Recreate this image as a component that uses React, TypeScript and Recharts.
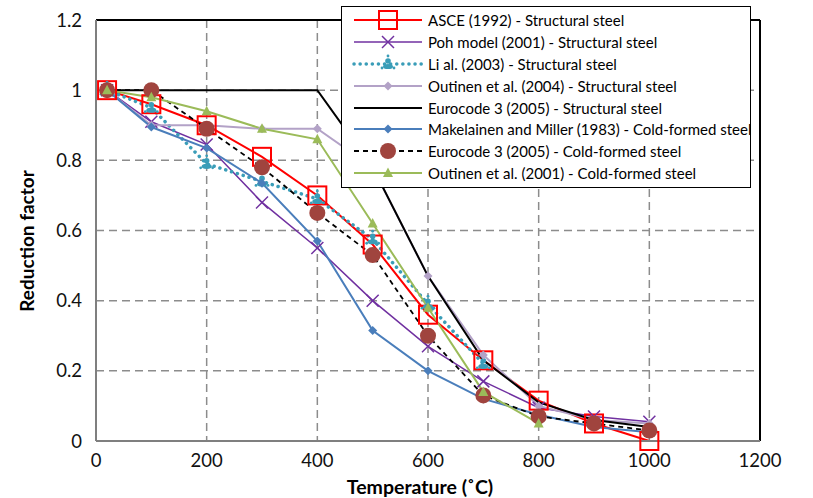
import React from "react";
import {
  LineChart,
  Line,
  XAxis,
  YAxis,
  CartesianGrid,
  ReferenceLine,
  Label,
} from "recharts";

// temperatures (°C) where each model is sampled
const temps = [20, 100, 200, 300, 400, 500, 600, 700, 800, 900, 1000];

const asce = [1.0, 0.96, 0.9, 0.81, 0.7, 0.56, 0.36, 0.23, 0.115, 0.05, 0.0];
const poh = [1.0, 0.91, 0.845, 0.68, 0.55, 0.4, 0.27, 0.17, 0.095, 0.07, 0.055];
const li = [1.0, 0.95, 0.79, 0.74, 0.69, 0.575, 0.39, 0.22, null, null, null];
const outinen04 = [1.0, 0.9, 0.9, 0.89, 0.89, 0.78, 0.47, 0.245, 0.1, 0.06, 0.05];
const ec3Struct = [1.0, 1.0, 1.0, 1.0, 1.0, 0.78, 0.47, 0.23, 0.11, 0.06, 0.04];
const makelainen = [1.0, 0.895, 0.835, 0.735, 0.57, 0.315, 0.2, 0.12, 0.075, 0.04, 0.025];
const ec3Cold = [1.0, 1.0, 0.89, 0.78, 0.65, 0.53, 0.3, 0.13, 0.07, 0.05, 0.03];
const outinen01 = [1.0, 0.98, 0.94, 0.89, 0.86, 0.62, 0.38, 0.14, 0.05, null, null];

const xTicks = [0, 200, 400, 600, 800, 1000, 1200];
const yTicks = [0, 0.2, 0.4, 0.6, 0.8, 1, 1.2];

const data = temps.map((t, i) => ({
  t,
  asce: asce[i],
  poh: poh[i],
  li: li[i],
  outinen04: outinen04[i],
  ec3Struct: ec3Struct[i],
  makelainen: makelainen[i],
  ec3Cold: ec3Cold[i],
  outinen01: outinen01[i],
}));

type Marker = "square" | "cross" | "li" | "diamondLav" | "none" | "diamondBlue" | "circle" | "triangle";

function drawMarker(kind: Marker, cx: number, cy: number, key?: string) {
  switch (kind) {
    case "square":
      return <rect key={key} x={cx - 9} y={cy - 9} width={18} height={18} fill="none" stroke="#FF0000" strokeWidth={2} />;
    case "cross":
      return (
        <g key={key} stroke="#7030A0" strokeWidth={1.5}>
          <line x1={cx - 6} y1={cy - 6} x2={cx + 6} y2={cy + 6} />
          <line x1={cx - 6} y1={cy + 6} x2={cx + 6} y2={cy - 6} />
        </g>
      );
    case "li":
      return (
        <g key={key} fill="#3A9DB8">
          <circle cx={cx} cy={cy - 3} r={2.8} />
          <ellipse cx={cx} cy={cy + 2.5} rx={5} ry={2.6} />
          <circle cx={cx - 6} cy={cy + 4} r={1.4} />
          <circle cx={cx + 6} cy={cy + 4} r={1.4} />
          <circle cx={cx} cy={cy - 8} r={1.4} />
        </g>
      );
    case "diamondLav":
      return <polygon key={key} points={`${cx},${cy - 4.5} ${cx + 4.5},${cy} ${cx},${cy + 4.5} ${cx - 4.5},${cy}`} fill="#B3A2C7" />;
    case "diamondBlue":
      return <polygon key={key} points={`${cx},${cy - 4.5} ${cx + 4.5},${cy} ${cx},${cy + 4.5} ${cx - 4.5},${cy}`} fill="#4A7EBB" />;
    case "circle":
      return <circle key={key} cx={cx} cy={cy} r={8} fill="#A0443E" />;
    case "triangle":
      return <polygon key={key} points={`${cx},${cy - 5.5} ${cx + 5},${cy + 4} ${cx - 5},${cy + 4}`} fill="#9BBB59" />;
    default:
      return <g key={key} />;
  }
}

const series: {
  key: string;
  name: string;
  color: string;
  width: number;
  dash?: string;
  marker: Marker;
}[] = [
  { key: "asce", name: "ASCE (1992) - Structural steel", color: "#FF0000", width: 2, marker: "square" },
  { key: "poh", name: "Poh model (2001) - Structural steel", color: "#7030A0", width: 1.5, marker: "cross" },
  { key: "li", name: "Li al. (2003) - Structural steel", color: "#3A9DB8", width: 3.5, dash: "0.1 6", marker: "li" },
  { key: "outinen04", name: "Outinen et al. (2004) - Structural steel", color: "#B3A2C7", width: 2, marker: "diamondLav" },
  { key: "ec3Struct", name: "Eurocode 3 (2005) - Structural steel", color: "#000000", width: 2, marker: "none" },
  { key: "makelainen", name: "Makelainen and Miller (1983) - Cold-formed steel", color: "#4A7EBB", width: 2, marker: "diamondBlue" },
  { key: "ec3Cold", name: "Eurocode 3 (2005) - Cold-formed steel", color: "#000000", width: 1.8, dash: "5 4", marker: "circle" },
  { key: "outinen01", name: "Outinen et al. (2001) - Cold-formed steel", color: "#9BBB59", width: 2, marker: "triangle" },
];

function ChartLegend() {
  return (
    <div
      style={{
        position: "absolute",
        left: 341,
        top: 6,
        width: 408,
        height: 178,
        background: "#fff",
        border: "1.5px solid #000",
        fontFamily: "Lato, sans-serif",
        fontSize: 15,
        color: "#000",
        paddingTop: 2,
      }}
    >
      {series.map((s) => (
        <div key={s.key} style={{ display: "flex", alignItems: "center", height: 21.9 }}>
          <svg width={86} height={22} style={{ flex: "none" }}>
            <line
              x1={12}
              y1={11}
              x2={80}
              y2={11}
              stroke={s.color}
              strokeWidth={s.width}
              strokeDasharray={s.dash}
              strokeLinecap={s.key === "li" ? "round" : "butt"}
            />
            {drawMarker(s.marker, 46, 11)}
          </svg>
          <span style={{ whiteSpace: "nowrap" }}>{s.name}</span>
        </div>
      ))}
    </div>
  );
}

export default function App() {
  return (
    <div style={{ position: "absolute", left: 0, top: 0, width: 813, height: 498, background: "#fff" }}>
      <LineChart width={813} height={498} data={data} margin={{ top: 20, right: 53, bottom: 0, left: 0 }}>
        <CartesianGrid stroke="#8C8C8C" strokeWidth={1.5} strokeDasharray="8 5" />
        <XAxis
          dataKey="t"
          type="number"
          domain={[0, 1200]}
          ticks={xTicks}
          height={57}
          tickLine={false}
          tickSize={0}
          tickMargin={13}
          stroke="#7F7F7F"
          strokeWidth={2}
          tick={{ fill: "#111", fontSize: 18.5, fontFamily: "Lato, sans-serif" }}
        >
          <Label
            content={() => (
              <text x={420} y={494} textAnchor="middle" fontFamily="Lato, sans-serif" fontWeight="bold" fontSize={19.5} fill="#000">
                Temperature (˚C)
              </text>
            )}
          />
        </XAxis>
        <YAxis
          type="number"
          domain={[0, 1.2]}
          ticks={yTicks}
          width={96}
          tickLine={false}
          tickSize={0}
          tickMargin={14}
          stroke="#7F7F7F"
          strokeWidth={2}
          tick={{ fill: "#111", fontSize: 18.5, fontFamily: "Lato, sans-serif" }}
        >
          <Label
            content={() => (
              <text
                x={26}
                y={241}
                transform="rotate(-90 26 241)"
                textAnchor="middle"
                dominantBaseline="central"
                fontFamily="Lato, sans-serif"
                fontWeight="bold"
                fontSize={19}
                fill="#000"
              >
                Reduction factor
              </text>
            )}
          />
        </YAxis>
        <ReferenceLine y={1.2} stroke="#000" strokeWidth={2} />
        <ReferenceLine x={1200} stroke="#000" strokeWidth={2} />
        {series.map((s) => (
          <Line
            key={s.key}
            dataKey={s.key}
            name={s.name}
            type="linear"
            stroke={s.color}
            strokeWidth={s.width}
            strokeDasharray={s.dash}
            strokeLinecap={s.key === "li" ? "round" : "butt"}
            isAnimationActive={false}
            connectNulls={false}
            dot={(p: any) =>
              p.cx == null || p.cy == null || p.value == null
                ? <g key={`${s.key}-${p.index}`} />
                : drawMarker(s.marker, p.cx, p.cy, `${s.key}-${p.index}`)
            }
            activeDot={false}
          />
        ))}
      </LineChart>
      <ChartLegend />
    </div>
  );
}
